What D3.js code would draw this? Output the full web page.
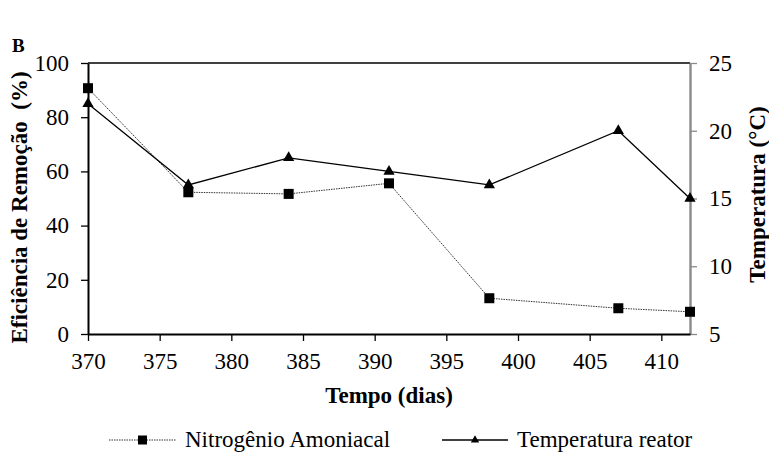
<!DOCTYPE html>
<html>
<head>
<meta charset="utf-8">
<script src="https://cdn.jsdelivr.net/npm/d3@7"></script>
<style>
  html, body { margin: 0; padding: 0; background: #fff; }
  svg { display: block; }
  svg text { font-family: "Liberation Serif", "Times New Roman", Times, "DejaVu Serif", serif; fill: #000; }
</style>
</head>
<body>
<svg id="chart" width="769" height="452"></svg>
<script>
// Operating days of the reactor
const dias = [370, 377, 384, 391, 398, 407, 412];
// Ammonia nitrogen removal efficiency (%)
const nitrogenio = [90.7, 52.3, 51.7, 55.6, 13.2, 9.5, 8.2];
// Reactor temperature (°C)
const temperatura = [22, 16, 18, 17, 16, 20, 15];

const xTicks = [370, 375, 380, 385, 390, 395, 400, 405, 410];
const yLeftTicks = [0, 20, 40, 60, 80, 100];
const yRightTicks = [5, 10, 15, 20, 25];

const SERIF = '"Liberation Serif", "Times New Roman", Times, "DejaVu Serif", serif';
const FS = 23;

const svg = d3.select("#chart");
const plot = { left: 88, right: 690, top: 63, bottom: 334 };

const x = d3.scaleLinear().domain([370, 412]).range([plot.left, plot.right]);
const yL = d3.scaleLinear().domain([0, 100]).range([plot.bottom, plot.top]);
const yR = d3.scaleLinear().domain([5, 25]).range([plot.bottom, plot.top]);

// Panel letter
svg.append("text")
  .attr("x", 12).attr("y", 52)
  .attr("font-family", SERIF)
  .style("font-weight", "bold").style("font-size", "19px")
  .text("B");

// Top border of the plot area
svg.append("line")
  .attr("x1", plot.left).attr("x2", plot.right)
  .attr("y1", plot.top).attr("y2", plot.top)
  .attr("stroke", "#000").attr("stroke-width", 1.5);

function styleAxis(g, color) {
  g.attr("font-family", SERIF).attr("font-size", FS);
  g.select(".domain").attr("stroke", color).attr("stroke-width", 2);
  g.selectAll(".tick line").attr("stroke", color).attr("stroke-width", 1.3);
  g.selectAll(".tick text").attr("fill", "#000");
}

// Left axis
const gL = svg.append("g").attr("transform", `translate(${plot.left},0)`)
  .call(d3.axisLeft(yL).tickValues(yLeftTicks).tickSize(7).tickPadding(12).tickSizeOuter(0));
styleAxis(gL, "#000");

// Right axis (grey)
const gR = svg.append("g").attr("transform", `translate(${plot.right},0)`)
  .call(d3.axisRight(yR).tickValues(yRightTicks).tickSize(7).tickPadding(12).tickSizeOuter(0));
styleAxis(gR, "#8a8a8a");
gR.select(".domain").attr("stroke-width", 2.4);

// Bottom axis
const gB = svg.append("g").attr("transform", `translate(0,${plot.bottom})`)
  .call(d3.axisBottom(x).tickValues(xTicks).tickSize(7).tickPadding(12).tickSizeOuter(0));
styleAxis(gB, "#000");

// Axis titles
svg.append("text")
  .attr("transform", `translate(27,${(plot.top + plot.bottom) / 2 + 9}) rotate(-90)`)
  .attr("text-anchor", "middle")
  .attr("font-family", SERIF)
  .style("white-space", "pre")
  .style("font-weight", "bold").style("font-size", FS + "px")
  .text("Eficiência de Remoção  (%)");

svg.append("text")
  .attr("transform", `translate(765,${(plot.top + plot.bottom) / 2 - 4}) rotate(-90)`)
  .attr("text-anchor", "middle")
  .attr("font-family", SERIF)
  .style("font-weight", "bold").style("font-size", FS + "px")
  .text("Temperatura (°C)");

svg.append("text")
  .attr("x", (plot.left + plot.right) / 2).attr("y", 403)
  .attr("text-anchor", "middle")
  .attr("font-family", SERIF)
  .style("font-weight", "bold").style("font-size", FS + "px")
  .text("Tempo (dias)");

// Series lines
const lineN = d3.line().x((d, i) => x(dias[i])).y(d => yL(d));
const lineT = d3.line().x((d, i) => x(dias[i])).y(d => yR(d));

svg.append("path").datum(nitrogenio)
  .attr("d", lineN).attr("fill", "none")
  .attr("stroke", "#333").attr("stroke-width", 1)
  .attr("stroke-dasharray", "1.5,1");

svg.append("path").datum(temperatura)
  .attr("d", lineT).attr("fill", "none")
  .attr("stroke", "#000").attr("stroke-width", 1.3);

const sq = 10;
const tri = d3.symbol().type(d3.symbolTriangle).size(55);

// Triangle markers (temperature)
svg.selectAll(".tri").data(temperatura).enter().append("path")
  .attr("class", "tri")
  .attr("d", tri)
  .attr("transform", (d, i) => `translate(${x(dias[i])},${yR(d)})`)
  .attr("fill", "#000");

// Square markers (ammonia nitrogen)
svg.selectAll(".sq").data(nitrogenio).enter().append("rect")
  .attr("class", "sq")
  .attr("x", (d, i) => x(dias[i]) - sq / 2)
  .attr("y", d => yL(d) - sq / 2)
  .attr("width", sq).attr("height", sq)
  .attr("fill", "#000");

// Legend
const legY = 440;
const leg = svg.append("g").attr("font-family", SERIF).attr("font-size", FS);
leg.append("line").attr("x1", 109).attr("x2", 176).attr("y1", legY).attr("y2", legY)
  .attr("stroke", "#333").attr("stroke-width", 1).attr("stroke-dasharray", "1.5,1");
leg.append("rect").attr("x", 142.5 - 4.5).attr("y", legY - 4.5).attr("width", 9).attr("height", 9).attr("fill", "#000");
leg.append("text").attr("x", 185).attr("y", legY + 7).text("Nitrogênio Amoniacal");

leg.append("line").attr("x1", 442).attr("x2", 508).attr("y1", legY).attr("y2", legY)
  .attr("stroke", "#000").attr("stroke-width", 1.3);
leg.append("path").attr("d", d3.symbol().type(d3.symbolTriangle).size(30))
  .attr("transform", `translate(475,${legY})`).attr("fill", "#000");
leg.append("text").attr("x", 517).attr("y", legY + 7).text("Temperatura reator");
</script>
</body>
</html>
